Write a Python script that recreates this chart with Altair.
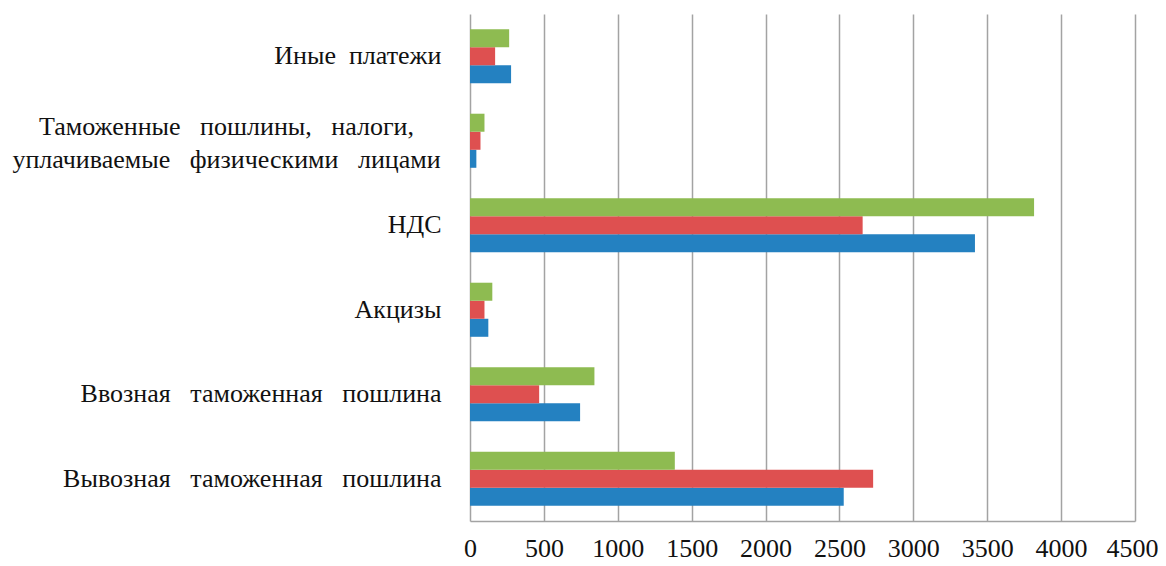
import altair as alt
import pandas as pd

S2 = "\u00a0\u00a0"
S3 = "\u00a0\u00a0\u00a0"

categories = [
    "Иные" + S2 + "платежи",
    "Таможенные" + S3 + "пошлины," + S3 + "налоги,|уплачиваемые" + S3 + "физическими" + S3 + "лицами",
    "НДС",
    "Акцизы",
    "Ввозная" + S3 + "таможенная" + S3 + "пошлина",
    "Вывозная" + S3 + "таможенная" + S3 + "пошлина",
]
series_names = ["Ряд 3", "Ряд 2", "Ряд 1"]  # top -> bottom inside a group
series_colors = ["#8EBB51", "#DE5050", "#2481C1"]

values_row1 = [278, 43, 3417, 124, 745, 2529]   # blue
values_row2 = [170, 71, 2657, 98, 468, 2728]    # red
values_row3 = [265, 98, 3817, 151, 842, 1386]   # green

tick_values = [0, 500, 1000, 1500, 2000, 2500, 3000, 3500, 4000, 4500]

rows = []
for i, c in enumerate(categories):
    rows.append({"cat": c, "series": "Ряд 1", "value": values_row1[i]})
    rows.append({"cat": c, "series": "Ряд 2", "value": values_row2[i]})
    rows.append({"cat": c, "series": "Ряд 3", "value": values_row3[i]})
df = pd.DataFrame(rows)

font = "Liberation Serif"
test_multi = "indexof(datum.value, '|') >= 0"

chart = (
    alt.Chart(df)
    .mark_bar()
    .encode(
        x=alt.X(
            "value:Q",
            scale=alt.Scale(domain=[0, 4500], nice=False, zero=True),
            axis=alt.Axis(
                values=tick_values,
                format="d",
                title=None,
                grid=True,
                gridColor="#a3a3a3",
                gridWidth=1.5,
                domain=True,
                domainColor="#a3a3a3",
                domainWidth=1.5,
                ticks=False,
                labelPadding=14,
                labelFont=font,
                labelFontSize=26,
                labelColor="#111111",
                labelFlush=False,
                labelOverlap=False,
                labelOffset={
                    "condition": {"test": "datum.value == 4500", "value": -3},
                    "value": 0,
                },
            ),
        ),
        y=alt.Y(
            "cat:N",
            sort=categories,
            scale=alt.Scale(paddingInner=0.36, paddingOuter=0.18),
            axis=alt.Axis(
                title=None,
                domain=False,
                ticks=False,
                grid=False,
                labelFont=font,
                labelFontSize=26,
                labelColor="#111111",
                labelLimit=0,
                labelExpr="split(datum.value, '|')",
                labelAlign={
                    "condition": {"test": test_multi, "value": "center"},
                    "value": "right",
                },
                labelPadding={
                    "condition": {"test": test_multi, "value": 244},
                    "value": 29,
                },
                labelOffset={
                    "condition": {"test": test_multi, "value": -14},
                    "value": 0,
                },
                labelLineHeight=33,
            ),
        ),
        yOffset=alt.YOffset("series:N", sort=series_names, scale=alt.Scale(paddingInner=0, paddingOuter=0)),
        color=alt.Color(
            "series:N",
            scale=alt.Scale(domain=series_names, range=series_colors),
            legend=None,
        ),
    )
    .properties(
        width=665,
        height=507,
        autosize=alt.AutoSizeParams(type="none"),
        padding={"left": 462, "top": 6, "right": 23, "bottom": 37},
    )
    .configure_view(stroke=None)
)

chart.save("out.html", embed_options={"renderer": "svg", "actions": False})
